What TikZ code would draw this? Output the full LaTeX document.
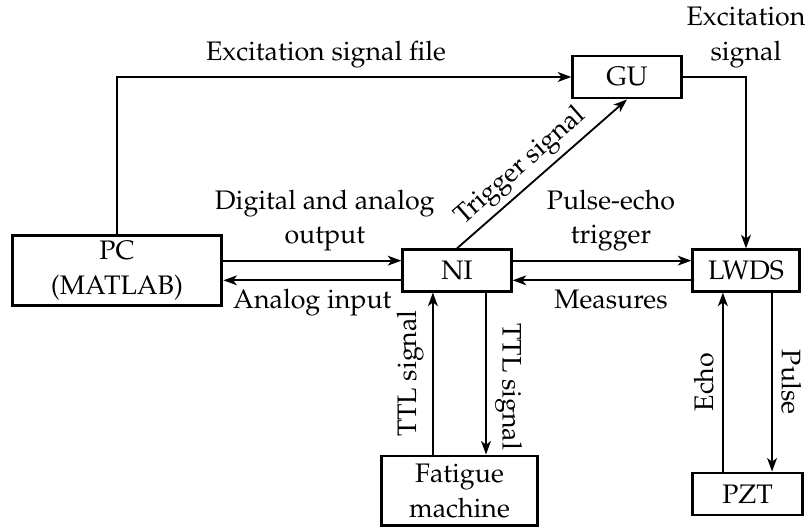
\documentclass[tikz,border=0pt]{standalone}
\usepackage[T1]{fontenc}
\usepackage{mathpazo}
\usetikzlibrary{arrows.meta, calc}
\tikzset{
  blockbox/.style={draw, line width=1.2pt, inner sep=0pt},
  sig/.style={-{Stealth[length=5.5pt, width=4pt, inset=1.5pt]}, line width=0.75pt},
}

\begin{document}
\begin{tikzpicture}[x=0.0143cm, y=-0.0143cm, every node/.style={font=\fontsize{10.9}{14}\selectfont, align=center}]
\useasboundingbox (0,0) rectangle (810,527);
% blocks
\node[blockbox, minimum width=3cm, minimum height=1cm] (pc) at (117,270.5) {PC\\(MATLAB)};
\node[blockbox, minimum width=1.55cm, minimum height=0.6cm] (gu) at (627,77) {GU};
\node[blockbox, minimum width=1.55cm, minimum height=0.59cm] (ni) at (457,270.5) {NI};
\node[blockbox, minimum width=1.52cm, minimum height=0.59cm] (lwds) at (746,270.5) {LWDS};
\node[blockbox, minimum width=2.22cm, minimum height=1cm] (fat) at (459.5,491) {Fatigue\\machine};
\node[blockbox, minimum width=1.56cm, minimum height=0.6cm] (pzt) at (747.5,494) {PZT};
% excitation path
\draw[sig] (pc.north) |- node[pos=0.73, above] {Excitation signal file} (gu.west);
\draw[sig] (gu.east) -| node[pos=0.5, above] {Excitation\\signal} (lwds.north);
\draw[sig] (ni.north) -- node[pos=0.45, above, sloped, inner sep=2pt] {Trigger signal} (gu.south);
% PC <-> NI <-> LWDS
\draw[sig] ([yshift=4pt]pc.east) -- node[pos=0.57, above] {Digital and analog\\output} ([yshift=4pt]ni.west);
\draw[sig] ([yshift=-4pt]ni.west) -- node[midway, below] {Analog input} ([yshift=-4pt]pc.east);
\draw[sig] ([yshift=4pt]ni.east) -- node[pos=0.55, above] {Pulse-echo\\trigger} ([yshift=4pt]lwds.west);
\draw[sig] ([yshift=-4pt]lwds.west) -- node[pos=0.45, below] {Measures} ([yshift=-4pt]ni.east);
% fatigue machine
\draw[sig] ([xshift=-9.8pt]ni.south |- fat.north) -- node[midway, rotate=90, anchor=south] {TTL signal} ([xshift=-9.8pt]ni.south);
\draw[sig] ([xshift=11.8pt]ni.south) -- node[pos=0.58, rotate=-90, anchor=south] {TTL signal} ([xshift=11.8pt]ni.south |- fat.north);
% transducer
\draw[sig] ([xshift=-9.4pt]lwds.south |- pzt.north) -- node[midway, rotate=90, anchor=south] {Echo} ([xshift=-9.4pt]lwds.south);
\draw[sig] ([xshift=10.6pt]lwds.south) -- node[midway, rotate=-90, anchor=south] {Pulse} ([xshift=10.6pt]lwds.south |- pzt.north);
\end{tikzpicture}
\end{document}
